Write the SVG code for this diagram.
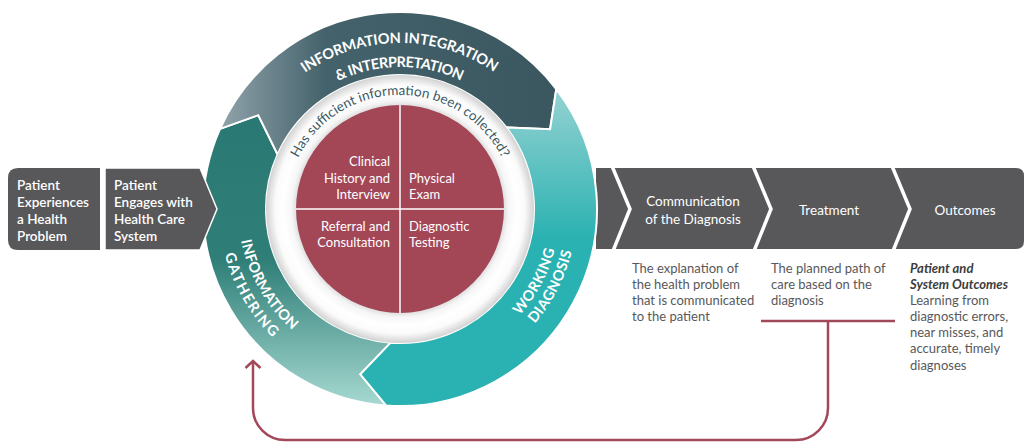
<svg xmlns="http://www.w3.org/2000/svg" xmlns:xlink="http://www.w3.org/1999/xlink" width="1026" height="444" viewBox="0 0 1026 444">
  <style>
    text { font-family: "Lato", "Liberation Sans", sans-serif; }
    .step { fill: #58585a; }
    .stepLabel { fill: #ffffff; font-size: 13.5px; font-weight: 600; }
    .bandLabel { fill: #ffffff; font-size: 13.5px; }
    .note { fill: #58585a; font-size: 13px; }
    .noteHead { fill: #3c3c3c; font-size: 13px; font-style: italic; font-weight: 700; }
    .ringLabel { fill: #ffffff; font-size: 14.5px; font-weight: 700; letter-spacing: 1px; }
    .question { fill: #3b5a64; font-size: 13.5px; }
    .quad { fill: #ffffff; font-size: 13px; }
    .segment { stroke: #ffffff; stroke-width: 2; stroke-linejoin: miter; }
    .sep { fill: none; stroke: #ffffff; stroke-width: 3.5; stroke-linejoin: miter; }
    .loop { fill: none; stroke: #a3485a; stroke-width: 2.5; }
  </style>
  <defs>
    <linearGradient id="gradIntegration" gradientUnits="userSpaceOnUse" x1="215" y1="0" x2="560" y2="0">
      <stop offset="0" stop-color="#94a6ae"/>
      <stop offset="0.32" stop-color="#44626b"/>
      <stop offset="1" stop-color="#3a5760"/>
    </linearGradient>
    <linearGradient id="gradGathering" gradientUnits="userSpaceOnUse" x1="0" y1="115" x2="0" y2="406">
      <stop offset="0" stop-color="#2a7873"/>
      <stop offset="0.5" stop-color="#2f7f78"/>
      <stop offset="1" stop-color="#a6d9d1"/>
    </linearGradient>
    <linearGradient id="gradWorking" gradientUnits="userSpaceOnUse" x1="0" y1="89" x2="0" y2="240">
      <stop offset="0" stop-color="#95d3d2"/>
      <stop offset="1" stop-color="#2ab1b1"/>
    </linearGradient>
    <radialGradient id="gradDisk" gradientUnits="userSpaceOnUse" cx="400" cy="209" r="134">
      <stop offset="0.76" stop-color="#d6d6d6"/>
      <stop offset="0.81" stop-color="#f6f6f6"/>
      <stop offset="0.87" stop-color="#ffffff"/>
      <stop offset="0.93" stop-color="#fbfbfb"/>
      <stop offset="1" stop-color="#d2d2d2"/>
    </radialGradient>
    <marker id="openArrow" markerUnits="userSpaceOnUse" markerWidth="20" markerHeight="20" viewBox="-10 -10 20 20" refX="0" refY="0" orient="auto" overflow="visible">
      <path d="M -7 -7.5 L 0 0 L -7 7.5" fill="none" stroke="#a3485a" stroke-width="2.5"/>
    </marker>
    <!-- baselines for the curved labels -->
    <path id="arcInt1" d="M 244.01 152.22 A 166 166 0 0 1 555.99 152.22"/>
    <path id="arcInt2" d="M 266.56 160.43 A 142 142 0 0 1 533.44 160.43"/>
    <path id="arcGat1" d="M 240.46 180.87 A 162 162 0 0 0 344.59 361.23"/>
    <path id="arcGat2" d="M 221.75 177.57 A 181 181 0 0 0 338.09 379.08"/>
    <path id="arcWork1" d="M 459.94 357.35 A 160 160 0 0 0 556.50 175.73"/>
    <path id="arcWork2" d="M 469.16 371.93 A 177 177 0 0 0 572.46 169.18"/>
    <path id="arcQuestion" d="M 287.73 189.20 A 114 114 0 0 1 512.27 189.20"/>
  </defs>

  <!-- later stages band -->
  <g id="band-later">
    <path class="step" d="M 596 168 H 1016 Q 1024 168 1024 176 V 241 Q 1024 249 1016 249 H 596 Z"/>
    <polyline class="sep" points="612,166 630,209 613,251"/>
    <polyline class="sep" points="753,166 771,209 754,251"/>
    <polyline class="sep" points="892,166 910,209 893,251"/>
  </g>

  <!-- diagnostic cycle ring -->
  <g id="ring-gathering">
    <path class="segment" fill="url(#gradGathering)" d="M 386.26 405.52 A 197 197 0 0 1 220.03 128.87 L 258.24 115.17 L 277.58 154.50 A 134 134 0 0 0 390.65 342.67 L 360.31 374.30 Z"/>
    <text class="ringLabel"><textPath xlink:href="#arcGat1" href="#arcGat1" startOffset="50%" text-anchor="middle" textLength="106">INFORMATION</textPath></text>
    <text class="ringLabel"><textPath xlink:href="#arcGat2" href="#arcGat2" startOffset="50%" text-anchor="middle" textLength="98">GATHERING</textPath></text>
  </g>
  <g id="ring-integration">
    <path class="segment" fill="url(#gradIntegration)" d="M 220.03 128.87 A 197 197 0 0 1 556.29 89.07 L 550.10 129.19 L 506.31 127.43 A 134 134 0 0 0 277.58 154.50 L 258.24 115.17 Z"/>
    <text class="ringLabel"><textPath xlink:href="#arcInt1" href="#arcInt1" startOffset="50%" text-anchor="middle" textLength="202">INFORMATION INTEGRATION</textPath></text>
    <text class="ringLabel"><textPath xlink:href="#arcInt2" href="#arcInt2" startOffset="50%" text-anchor="middle" textLength="128">&amp; INTERPRETATION</textPath></text>
  </g>
  <g id="ring-working">
    <path class="segment" fill="url(#gradWorking)" d="M 556.29 89.07 A 197 197 0 0 1 386.26 405.52 L 360.31 374.30 L 390.65 342.67 A 134 134 0 0 0 506.31 127.43 L 550.10 129.19 Z"/>
    <text class="ringLabel"><textPath xlink:href="#arcWork1" href="#arcWork1" startOffset="50%" text-anchor="middle" textLength="76">WORKING</textPath></text>
    <text class="ringLabel"><textPath xlink:href="#arcWork2" href="#arcWork2" startOffset="50%" text-anchor="middle" textLength="83">DIAGNOSIS</textPath></text>
  </g>

  <!-- inner disk with the question -->
  <g id="question">
    <circle cx="400" cy="209" r="134" fill="url(#gradDisk)"/>
    <text class="question"><textPath xlink:href="#arcQuestion" href="#arcQuestion" startOffset="50%" text-anchor="middle" textLength="252">Has sufficient information been collected?</textPath></text>
  </g>

  <!-- four activities -->
  <g id="activities">
    <circle cx="400" cy="209" r="104" fill="#a34757"/>
    <line x1="400" y1="105" x2="400" y2="313" stroke="#ffffff" stroke-width="1.5"/>
    <line x1="296" y1="209" x2="504" y2="209" stroke="#ffffff" stroke-width="1.5"/>
    <text class="quad" text-anchor="end"><tspan x="390" y="166">Clinical</tspan><tspan x="390" y="182.5">History and</tspan><tspan x="390" y="199">Interview</tspan></text>
    <text class="quad"><tspan x="409" y="182.5">Physical</tspan><tspan x="409" y="199">Exam</tspan></text>
    <text class="quad" text-anchor="end"><tspan x="390" y="230.5">Referral and</tspan><tspan x="390" y="247">Consultation</tspan></text>
    <text class="quad"><tspan x="409" y="230.5">Diagnostic</tspan><tspan x="409" y="247">Testing</tspan></text>
  </g>

  <!-- entry steps -->
  <g id="step-experiences">
    <path class="step" d="M 18 168 H 100 V 250 H 18 Q 8 250 8 240 V 178 Q 8 168 18 168 Z"/>
    <text class="stepLabel"><tspan x="17" y="190">Patient</tspan><tspan x="17" y="207">Experiences</tspan><tspan x="17" y="224">a Health</tspan><tspan x="17" y="241">Problem</tspan></text>
  </g>
  <g id="step-engages">
    <path class="step" d="M 105 168 H 200 L 217 209 L 200 250 H 105 Z" stroke="#ffffff" stroke-width="1.5"/>
    <text class="stepLabel"><tspan x="114" y="190">Patient</tspan><tspan x="114" y="207">Engages with</tspan><tspan x="114" y="224">Health Care</tspan><tspan x="114" y="241">System</tspan></text>
  </g>

  <!-- later stages -->
  <g id="step-communication">
    <text class="bandLabel" text-anchor="middle"><tspan x="693" y="206">Communication</tspan><tspan x="693" y="224">of the Diagnosis</tspan></text>
    <text class="note"><tspan x="632" y="273">The explanation of</tspan><tspan x="632" y="289">the health problem</tspan><tspan x="632" y="305">that is communicated</tspan><tspan x="632" y="321">to the patient</tspan></text>
  </g>
  <g id="step-treatment">
    <text class="bandLabel" text-anchor="middle" x="829" y="215">Treatment</text>
    <text class="note"><tspan x="771" y="273">The planned path of</tspan><tspan x="771" y="289">care based on the</tspan><tspan x="771" y="305">diagnosis</tspan></text>
  </g>
  <g id="step-outcomes">
    <text class="bandLabel" text-anchor="middle" x="965" y="215">Outcomes</text>
    <text class="noteHead"><tspan x="910" y="273">Patient and</tspan><tspan x="910" y="289">System Outcomes</tspan></text>
    <text class="note"><tspan x="910" y="305">Learning from</tspan><tspan x="910" y="321">diagnostic errors,</tspan><tspan x="910" y="337">near misses, and</tspan><tspan x="910" y="353">accurate, timely</tspan><tspan x="910" y="370">diagnoses</tspan></text>
  </g>

  <!-- feedback loop back into information gathering -->
  <g id="connectors">
    <line class="loop" x1="761" y1="321" x2="895" y2="321"/>
    <path class="loop" d="M 828 321 V 408 A 32 32 0 0 1 796 440 H 285 A 32 32 0 0 1 253 408 V 361" marker-end="url(#openArrow)"/>
  </g>
</svg>
